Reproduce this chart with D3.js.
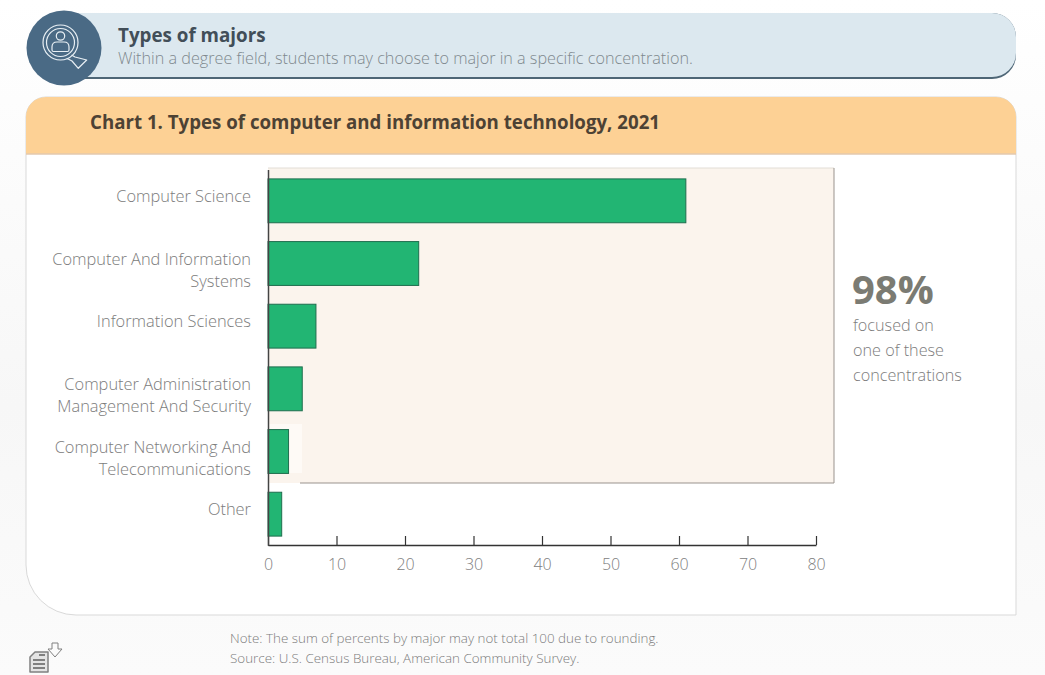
<!DOCTYPE html>
<html>
<head>
<meta charset="utf-8">
<script src="https://cdn.jsdelivr.net/npm/d3@7"></script>
<style>
  html, body { margin: 0; padding: 0; background: #fff; overflow: hidden; }
  text { font-family: "Open Sans", sans-serif; }
</style>
</head>
<body>
<div id="chart"></div>
<script>
// chart data
var categories = [
  'Computer Science',
  'Computer And Information Systems',
  'Information Sciences',
  'Computer Administration Management And Security',
  'Computer Networking And Telecommunications',
  'Other'
];
var percents = [61, 22, 7, 5, 3, 2];
var xTicks = [0, 10, 20, 30, 40, 50, 60, 70, 80];

var heading = 'Types of majors';
var subheading = 'Within a degree field, students may choose to major in a specific concentration.';
var chartTitle = 'Chart 1. Types of computer and information technology, 2021';
var calloutValue = '98%';
var calloutLines = ['focused on', 'one of these', 'concentrations'];
var footnotes = [
  'Note: The sum of percents by major may not total 100 due to rounding.',
  'Source: U.S. Census Bureau, American Community Survey.'
];

var svg = d3.select('#chart').append('svg')
  .attr('width', 1045)
  .attr('height', 675)
  .style('display', 'block');

// faint page shading
var defs = svg.append('defs');
var bg = defs.append('linearGradient').attr('id', 'pageBg').attr('x1', 0).attr('x2', 0).attr('y1', 0).attr('y2', 1);
bg.append('stop').attr('offset', '0%').attr('stop-color', '#ffffff');
bg.append('stop').attr('offset', '60%').attr('stop-color', '#f7f7f7');
bg.append('stop').attr('offset', '100%').attr('stop-color', '#fbfbfb');
svg.append('rect').attr('width', 1045).attr('height', 675).attr('fill', 'url(#pageBg)');

// top banner
svg.append('path')
  .attr('d', 'M60,13 H992 a24,24 0 0 1 24,24 V55 a24,24 0 0 1 -24,24 H60 Z')
  .attr('fill', '#4e6676');
svg.append('path')
  .attr('d', 'M60,13 H992 a24,24 0 0 1 24,24 V53 a24,24 0 0 1 -24,24 H60 Z')
  .attr('fill', '#dce8ef');

svg.append('circle').attr('cx', 64).attr('cy', 48).attr('r', 37.5).attr('fill', '#4a6a85');

// magnifier icon
var icon = svg.append('g')
  .attr('fill', 'none')
  .attr('stroke', '#e8eff4')
  .attr('stroke-width', 1.2)
  .attr('stroke-linejoin', 'round');
icon.append('circle').attr('cx', 60.5).attr('cy', 42.5).attr('r', 17.5);
icon.append('circle').attr('cx', 60.5).attr('cy', 42.5).attr('r', 14);
icon.append('circle').attr('cx', 60.5).attr('cy', 36).attr('r', 4.2);
icon.append('path').attr('d', 'M52,50 v-3 q0,-5 5,-5 h7 q5,0 5,5 v3 q0,1.5 -1.5,1.5 h-14 q-1.5,0 -1.5,-1.5 Z');
icon.append('path').attr('d', 'M71.5,55 L75,57 L86.7,60 L78.3,68.3 L72,61 L66.7,58.3');

svg.append('text').attr('x', 118).attr('y', 42)
  .attr('font-size', 18.8).attr('font-weight', 700).attr('fill', '#424e58')
  .text(heading);
svg.append('text').attr('x', 118).attr('y', 64)
  .attr('font-size', 16.2).attr('font-weight', 300).attr('fill', '#7f888e')
  .text(subheading);

// card
svg.append('path')
  .attr('d', 'M26,117 a20,20 0 0 1 20,-20 H996 a20,20 0 0 1 20,20 V615 H76 a50,50 0 0 1 -50,-50 Z')
  .attr('fill', '#fff')
  .attr('stroke', '#d9d9d9');
svg.append('path')
  .attr('d', 'M26,117 a20,20 0 0 1 20,-20 H996 a20,20 0 0 1 20,20 V154 H26 Z')
  .attr('fill', '#fdd195');
svg.append('line').attr('x1', 26).attr('x2', 1016).attr('y1', 154).attr('y2', 154)
  .attr('stroke', '#e3c9ae').attr('stroke-width', 1.5);
svg.append('text').attr('x', 90).attr('y', 129)
  .attr('font-size', 18.7).attr('font-weight', 700).attr('fill', '#4d4234')
  .text(chartTitle);

// scales
var x = d3.scaleLinear().domain([0, 80]).range([268, 816]);
var y = d3.scaleBand().domain(categories).range([169.5, 545.5]).paddingInner(0.3).paddingOuter(0.15);

// beige panel behind the bars
svg.append('rect').attr('x', 268).attr('y', 168).attr('width', 566).attr('height', 315).attr('fill', '#fbf4ed');
svg.append('path').attr('d', 'M268,168 H834').attr('fill', 'none').attr('stroke', '#e2ddd6').attr('stroke-width', 1);
svg.append('path').attr('d', 'M834,168 V483 H300').attr('fill', 'none').attr('stroke', '#99938d').attr('stroke-width', 1);
svg.append('rect').attr('x', 268).attr('y', 424).attr('width', 34).attr('height', 49).attr('fill', '#fefaf6');

// bars
svg.selectAll('.bar')
  .data(percents)
  .enter().append('rect')
  .attr('class', 'bar')
  .attr('x', x(0))
  .attr('y', (d, i) => y(categories[i]))
  .attr('width', d => x(d) - x(0))
  .attr('height', y.bandwidth())
  .attr('fill', '#22b573')
  .attr('stroke', '#1f6e4e')
  .attr('stroke-width', 1);

// x axis
var xAxis = svg.append('g')
  .attr('transform', 'translate(0,545)')
  .call(d3.axisBottom(x).tickValues(xTicks).tickSize(-9).tickSizeOuter(0).tickPadding(14));
xAxis.select('.domain').attr('stroke', '#333').attr('stroke-width', 1.5);
xAxis.selectAll('.tick line').attr('stroke', '#333').attr('stroke-width', 1.2);
xAxis.selectAll('.tick text')
  .attr('font-size', 16)
  .attr('font-weight', 300)
  .attr('font-family', '"Open Sans", sans-serif')
  .attr('fill', '#808080');

// y axis
var yAxis = svg.append('g')
  .attr('transform', 'translate(268,0)')
  .call(d3.axisLeft(y).tickSize(0).tickPadding(17));
yAxis.select('.domain').attr('stroke', '#444').attr('stroke-width', 1.5);
yAxis.selectAll('.tick text')
  .attr('font-size', 16.4)
  .attr('font-weight', 300)
  .attr('font-family', '"Open Sans", sans-serif')
  .attr('fill', '#7c7c7c')
  .call(wrapLabels, 212);

// wrap long labels, all of them sit a little above their slot
function wrapLabels(labels, width) {
  labels.each(function () {
    var label = d3.select(this);
    var words = label.text().split(' ');
    var lines = [];
    var line = [];
    label.text(null);
    var probe = label.append('tspan');
    words.forEach(function (w) {
      line.push(w);
      probe.text(line.join(' '));
      if (probe.node().getComputedTextLength() > width && line.length > 1) {
        line.pop();
        lines.push(line.join(' '));
        line = [w];
      }
    });
    lines.push(line.join(' '));
    probe.remove();
    lines.forEach(function (l, i) {
      label.append('tspan')
        .attr('x', -17)
        .attr('y', -4 + i * 22)
        .attr('dy', '0.32em')
        .text(l);
    });
  });
}

// callout
svg.append('text').attr('x', 852).attr('y', 304)
  .attr('font-size', 40).attr('font-weight', 700).attr('fill', '#7b7b73')
  .text(calloutValue);
svg.selectAll('.callout')
  .data(calloutLines)
  .enter().append('text')
  .attr('class', 'callout')
  .attr('x', 853)
  .attr('y', (d, i) => 331 + i * 25)
  .attr('font-size', 16.2)
  .attr('font-weight', 300)
  .attr('fill', '#7c7c7c')
  .text(d => d);

// footnotes
svg.selectAll('.foot')
  .data(footnotes)
  .enter().append('text')
  .attr('class', 'foot')
  .attr('x', 230)
  .attr('y', (d, i) => 643 + i * 20)
  .attr('font-size', 13.4)
  .attr('font-weight', 300)
  .attr('fill', '#7c7c7c')
  .text(d => d);

// download icon
var dl = svg.append('g').attr('fill', 'none').attr('stroke', '#808080').attr('stroke-linejoin', 'round');
dl.append('path').attr('stroke-width', 1.5).attr('fill', '#e4e4e4').attr('d', 'M35,652 H48 V672 H30 V657 Z');
dl.append('path').attr('stroke-width', 2).attr('d', 'M33,660 H45 M33,664 H45 M33,668 H45 M39,655 H45');
dl.append('path').attr('stroke-width', 1).attr('d', 'M52,643 H58 V649 H62 L55,657 L48,649 H52 Z');
</script>
</body>
</html>
